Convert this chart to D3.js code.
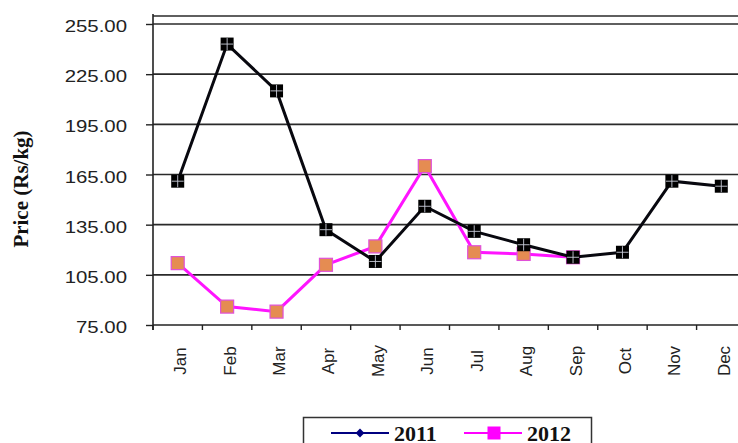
<!DOCTYPE html>
<html lang="en">
<head>
<meta charset="utf-8">
<script src="https://d3js.org/d3.v7.min.js"></script>
<style>
  body { margin: 0; background: #fff; }
  .ylab text { font-family: "Liberation Sans", Arial, sans-serif; font-size: 17px; fill: #222; }
  .xlab text { font-family: "Liberation Sans", Arial, sans-serif; font-size: 17px; fill: #222; }
</style>
</head>
<body>
<div id="chart"></div>
<script>
// data
const months = ["Jan", "Feb", "Mar", "Apr", "May", "Jun", "Jul", "Aug", "Sep", "Oct", "Nov", "Dec"];
const price2011 = [161, 243, 215, 132, 113, 146, 131, 123, 115.5, 118.5, 161, 158];
const price2012 = [112, 86, 83, 111, 122, 170, 118.5, 117.5, 115.5];
const yTicks = [75, 105, 135, 165, 195, 225, 255];
const seriesNames = ["2011", "2012"];

const W = 738, H = 443;
const plotL = 153, plotR = 746, plotT = 16, plotB = 325;

const svg = d3.select("#chart").append("svg")
  .attr("width", W).attr("height", H);

const x = d3.scaleBand().domain(months).range([plotL, plotR]).padding(0);
const y = d3.scaleLinear().domain([75, 255]).range([plotB, 24]);

// gridlines
svg.append("g")
  .selectAll("line")
  .data(yTicks.slice(1))
  .join("line")
  .attr("x1", plotL).attr("x2", plotR)
  .attr("y1", d => y(d)).attr("y2", d => y(d))
  .attr("stroke", "#2a2a2a").attr("stroke-width", 1.6);

// frame top line
svg.append("line")
  .attr("x1", plotL).attr("x2", plotR).attr("y1", plotT).attr("y2", plotT)
  .attr("stroke", "#2a2a2a").attr("stroke-width", 1.4);

// y axis
const yAxis = svg.append("g")
  .attr("class", "ylab")
  .attr("transform", `translate(${plotL},0)`)
  .call(d3.axisLeft(y).tickValues(yTicks).tickSize(7).tickFormat(d3.format(".2f")));
yAxis.select(".domain").remove();
yAxis.selectAll(".tick line").attr("stroke", "#222").attr("stroke-width", 1.4);
yAxis.append("line").attr("x1", 0).attr("x2", 0).attr("y1", plotT - 2).attr("y2", plotB + 5)
  .attr("stroke", "#222").attr("stroke-width", 1.6);
yAxis.selectAll(".tick text")
  .attr("x", 0).attr("dy", "0.45em")
  .attr("text-anchor", "end")
  .attr("transform", "translate(-26,0) scale(1.2,1)");

// x axis
const xAxis = svg.append("g")
  .attr("class", "xlab")
  .attr("transform", `translate(0,${plotB})`)
  .call(d3.axisBottom(x).tickSize(0));
xAxis.select(".domain").remove();
xAxis.append("line").attr("x1", plotL).attr("x2", plotR).attr("y1", 0).attr("y2", 0)
  .attr("stroke", "#222").attr("stroke-width", 1.6);
xAxis.selectAll(".tick").append("line")
  .attr("x1", -x.bandwidth() / 2).attr("x2", -x.bandwidth() / 2)
  .attr("y1", 0).attr("y2", 5)
  .attr("stroke", "#222").attr("stroke-width", 1.4);
xAxis.selectAll(".tick text")
  .attr("transform", "rotate(-90)")
  .attr("x", -36).attr("y", 0).attr("dy", "0.5em")
  .attr("text-anchor", "middle");

// axis title
svg.append("text")
  .attr("transform", `translate(28,189) rotate(-90)`)
  .attr("text-anchor", "middle")
  .attr("font-family", "Liberation Serif, Times New Roman, serif")
  .attr("font-weight", "bold")
  .attr("font-size", 21)
  .attr("fill", "#111")
  .text("Price (Rs/kg)");

const cx = (d, i) => x(months[i]) + x.bandwidth() / 2;
const line = d3.line().x((d, i) => cx(d, i)).y(d => y(d));

// 2012 series (drawn under 2011)
const g12 = svg.append("g");
g12.append("path").datum(price2012)
  .attr("d", line).attr("fill", "none")
  .attr("stroke", "#ff14ff").attr("stroke-width", 3);
g12.selectAll("rect").data(price2012).join("rect")
  .attr("x", (d, i) => cx(d, i) - 6.5).attr("y", d => y(d) - 6.5)
  .attr("width", 13).attr("height", 13)
  .attr("fill", "#e58c52").attr("stroke", "#e050d8").attr("stroke-width", 1.2);

// 2011 series
const g11 = svg.append("g");
g11.append("path").datum(price2011)
  .attr("d", line).attr("fill", "none")
  .attr("stroke", "#08080f").attr("stroke-width", 3);
const m11 = g11.selectAll("g").data(price2011).join("g")
  .attr("transform", (d, i) => `translate(${cx(d, i)},${y(d)})`);
m11.append("rect")
  .attr("x", -6.5).attr("y", -6.5).attr("width", 13).attr("height", 13)
  .attr("fill", "#000");
m11.append("line").attr("x1", -6).attr("x2", 6).attr("y1", 0).attr("y2", 0)
  .attr("stroke", "#c8ccd8").attr("stroke-width", 0.9);
m11.append("line").attr("x1", 0).attr("x2", 0).attr("y1", -6).attr("y2", 6)
  .attr("stroke", "#c8ccd8").attr("stroke-width", 0.9);

// legend
const lg = svg.append("g");
lg.append("rect")
  .attr("x", 303.5).attr("y", 417.5).attr("width", 288).attr("height", 40)
  .attr("fill", "#fff").attr("stroke", "#333").attr("stroke-width", 1.5);
const legendX = [331, 464];
const legendColor = ["#000080", "#ff00ff"];
seriesNames.forEach((name, i) => {
  const lx = legendX[i], ly = 433;
  lg.append("line").attr("x1", lx).attr("x2", lx + 58).attr("y1", ly).attr("y2", ly)
    .attr("stroke", legendColor[i]).attr("stroke-width", 2);
  if (i === 0) {
    lg.append("path")
      .attr("d", d3.symbol(d3.symbolDiamond2, 50)())
      .attr("transform", `translate(${lx + 29},${ly})`)
      .attr("fill", legendColor[i]);
  } else {
    lg.append("rect").attr("x", lx + 30 - 6.5).attr("y", ly - 6.5)
      .attr("width", 13).attr("height", 13).attr("fill", legendColor[i]);
  }
  lg.append("text")
    .attr("x", lx + 63).attr("y", 440.7)
    .attr("font-family", "Liberation Serif, Times New Roman, serif")
    .attr("font-weight", "bold").attr("font-size", 22)
    .attr("fill", "#111")
    .text(name);
});
</script>
</body>
</html>
